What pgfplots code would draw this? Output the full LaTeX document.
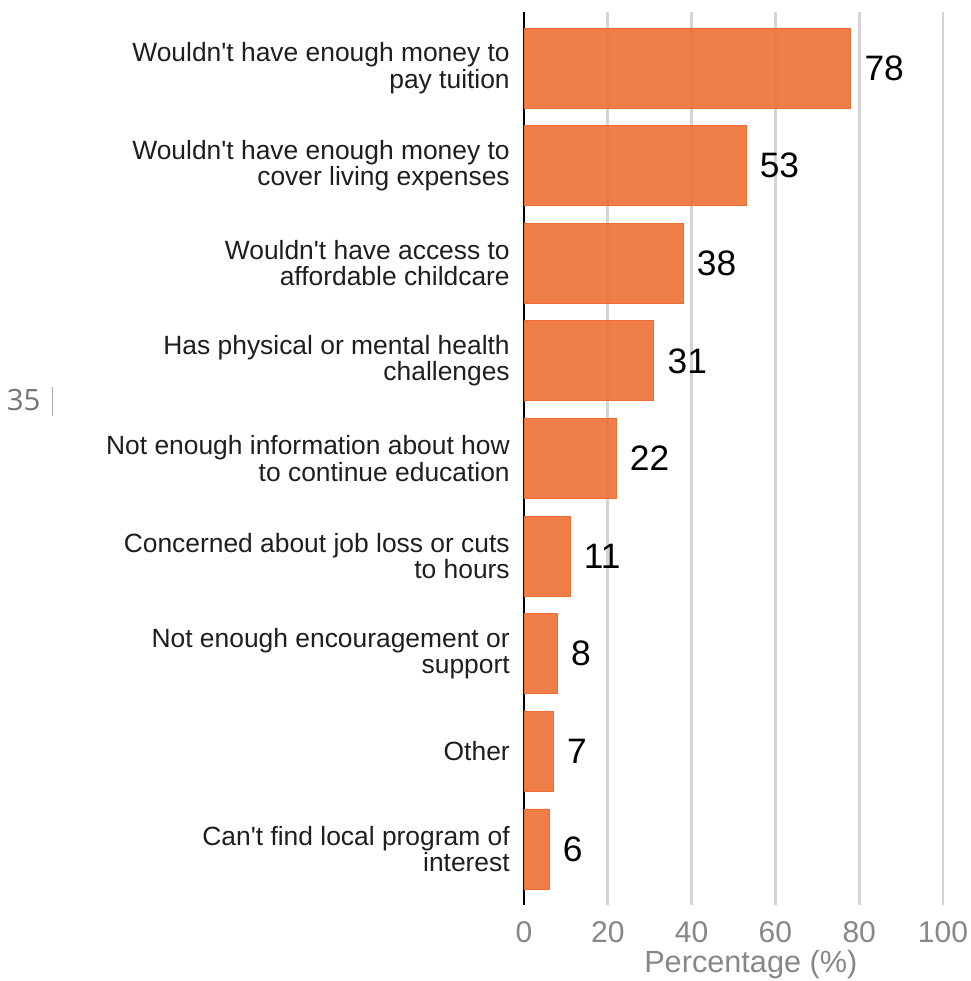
\documentclass[border=0pt]{standalone}
\usepackage{fontspec}
\setmainfont{Liberation Sans}
\newfontfamily\opensans{Open Sans}
\usepackage{pgfplots}
\pgfplotsset{compat=1.18}
\definecolor{barfill}{RGB}{238,112,52}
\definecolor{baredge}{RGB}{235,108,48}
\definecolor{gridc}{RGB}{212,212,212}
\definecolor{tickc}{RGB}{135,135,135}
\definecolor{labc}{RGB}{30,30,30}
\begin{document}
\begin{tikzpicture}
\begin{axis}[
  name=ax,
  scale only axis,
  width=314.25pt, height=669.75pt,
  xmin=0, xmax=100,
  ymin=-0.574, ymax=8.574,
  y dir=reverse,
  xbar, bar width=60pt,
  xtick={0,20,40,60,80,100},
  ytick={0,1,2,3,4,5,6,7,8},
  yticklabels={
    {Wouldn\textquotesingle t have enough money to\\pay tuition},
    {Wouldn\textquotesingle t have enough money to\\cover living expenses},
    {Wouldn\textquotesingle t have access to\\affordable childcare},
    {Has physical or mental health\\challenges},
    {Not enough information about how\\to continue education},
    {Concerned about job loss or cuts\\to hours},
    {Not enough encouragement or\\support},
    {Other},
    {Can\textquotesingle t find local program of\\interest}},
  yticklabel style={align=right, font=\fontsize{19.8}{19.8}\selectfont, text=labc, inner sep=0pt, xshift=-10.5pt},
  xticklabel style={font=\fontsize{22.5}{24}\selectfont, text=tickc, inner sep=0pt, anchor=north, yshift=-12.5pt},
  /pgf/number format/assume math mode=true,
  major tick length=0pt,
  xmajorgrids,
  grid style={gridc, line width=2pt},
  axis lines*=left,
  separate axis lines,
  x axis line style={draw=none},
  y axis line style={black, line width=1.5pt},
  xlabel={Percentage (\%)},
  xlabel style={at={(axis description cs:0.5,0)}, anchor=base, yshift=-50.5pt, xshift=13pt, font=\fontsize{23}{24}\selectfont, text=tickc, inner sep=0pt},
  nodes near coords,
  point meta=x,
  nodes near coords style={anchor=west, font=\fontsize{26.5}{28}\selectfont, text=black, inner sep=0pt, xshift=10pt},
  clip=false,
]
\addplot[fill=barfill, fill opacity=0.9, draw=baredge, line width=0.6pt, text opacity=1] coordinates {
  (78,0) (53,1) (38,2) (31,3) (22,4) (11,5) (8,6) (7,7) (6,8)
};
\node[anchor=west, inner sep=0pt, font=\opensans\fontsize{22}{24}\selectfont, text=tickc!85!black] at (axis cs:-123.5,3.405) {35};
\draw[gridc!80!black, line width=0.8pt] (axis cs:-112.6,3.27) -- (axis cs:-112.6,3.56);
\end{axis}
\pgfresetboundingbox
\path[use as bounding box] ([xshift=-393pt, yshift=-57pt]ax.south west) rectangle ([xshift=21pt, yshift=9pt]ax.north east);
\end{tikzpicture}
\end{document}
